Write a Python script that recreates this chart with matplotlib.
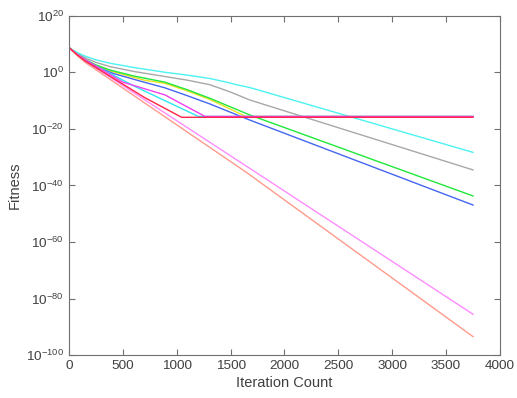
import numpy as np
import matplotlib
matplotlib.use("Agg")
import matplotlib.pyplot as plt
from matplotlib.ticker import NullLocator

# ── data: iteration breakpoints and log10(fitness) ──
gray_x = [0, 75, 150, 250, 380, 600, 891, 1100, 1308, 1500, 1679, 3750]
gray_e = [8.7, 6.7, 5.1, 3.5, 2.0, 0.3, -1.5, -2.8, -4.4, -7.0, -9.8, -34.5]

cyan_x = [0, 75, 150, 250, 380, 600, 891, 1100, 1308, 1450, 1556, 1679, 3750]
cyan_e = [8.7, 7.0, 5.7, 4.4, 3.2, 1.7, 0.0, -1.0, -2.2, -3.4, -4.4, -5.4, -28.3]

green_x = [0, 75, 150, 250, 380, 600, 891, 1100, 1308, 1679, 3750]
green_e = [8.7, 6.4, 4.5, 2.6, 0.8, -1.3, -3.5, -6.2, -9.2, -15.1, -43.7]

blue_x = [0, 75, 150, 250, 410, 650, 891, 1100, 1308, 1679, 3750]
blue_e = [8.7, 6.2, 4.0, 2.0, -0.4, -3.0, -5.5, -8.3, -11.2, -16.9, -46.9]

yellow_x = [0, 75, 150, 250, 380, 700, 891, 1100, 1308, 1640, 3750]
yellow_e = [8.7, 6.3, 4.3, 2.3, 0.5, -2.8, -3.9, -6.6, -9.6, -15.6, -15.6]

cyan2_x = [0, 75, 150, 600, 1200, 3750]
cyan2_e = [8.7, 6.2, 4.2, -4.8, -15.6, -15.6]

magenta_x = [0, 75, 150, 500, 891, 1262, 3750]
magenta_e = [8.7, 6.4, 4.5, -3.5, -8.0, -15.6, -15.6]

pink_x = [0, 75, 150, 1000, 3750]
pink_e = [8.7, 6.2, 4.0, -17.1, -85.5]

salmon_x = [0, 75, 150, 1648, 3750]
salmon_e = [8.7, 5.9, 3.5, -35.4, -93.4]

red_x = [0, 75, 150, 705, 1045, 3750]
red_e = [8.7, 6.2, 4.0, -9.0, -15.9, -15.9]

series = [
    (gray_x, gray_e, "#a8a8a8"),
    (cyan_x, cyan_e, "#4df2f2"),
    (yellow_x, yellow_e, "#e8e020"),
    (green_x, green_e, "#1fe83c"),
    (blue_x, blue_e, "#4466f0"),
    (cyan2_x, cyan2_e, "#2ee6f0"),
    (magenta_x, magenta_e, "#f040f0"),
    (pink_x, pink_e, "#ff8cff"),
    (salmon_x, salmon_e, "#ff9a8c"),
    (red_x, red_e, "#ff2448"),
]

plt.rcParams["font.family"] = ["Liberation Sans", "DejaVu Sans"]
plt.rcParams["mathtext.default"] = "regular"

fig = plt.figure(figsize=(5.17, 3.98), dpi=100, facecolor="white")
ax = fig.add_axes([0.1335, 0.1073, 0.8335, 0.8533])

for xs, es, col in series:
    ax.semilogy(xs, 10.0 ** np.array(es), color=col, linewidth=1.0)

ax.set_xlim(0, 4000)
ax.set_ylim(1e-100, 1e20)
ax.set_xticks(np.arange(0, 4001, 500))
ax.set_yticks([10.0 ** k for k in range(-100, 21, 20)])
ax.yaxis.set_minor_locator(NullLocator())

ax.tick_params(direction="in", length=4, width=0.8, top=True, right=True,
               colors="#707070", labelcolor="#404040", labelsize=9.7)
for sp in ax.spines.values():
    sp.set_color("#707070")
    sp.set_linewidth(0.8)

ax.set_xlabel("Iteration Count", fontsize=10.5, color="#404040", labelpad=3)
ax.set_ylabel("Fitness", fontsize=10.5, color="#404040", labelpad=3)

fig.savefig("out.png", dpi=100, facecolor="white")
